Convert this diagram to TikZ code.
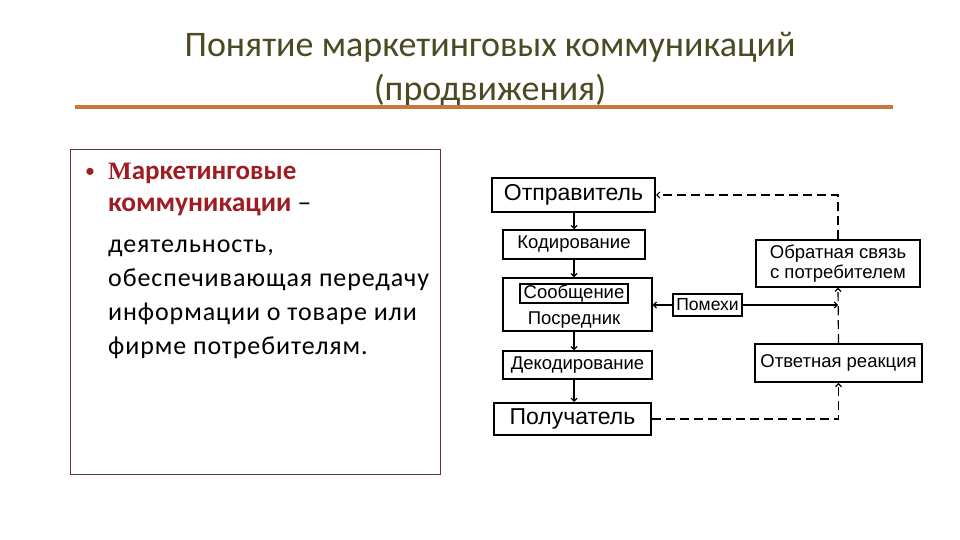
\documentclass[tikz,border=0pt]{standalone}
\usepackage{fontspec}
\setmainfont{Carlito}
\newfontfamily\arialf{Liberation Sans}
\newfontfamily\serifb{Liberation Serif}
\newfontfamily\bodyf[LetterSpace=3.5]{Carlito}
\usetikzlibrary{arrows.meta}
\definecolor{titlecol}{HTML}{4B4A23}
\definecolor{rulecol}{HTML}{C8783C}
\definecolor{headred}{HTML}{9E1C22}
\definecolor{framecol}{HTML}{6A3030}
\tikzset{
  box/.style={draw=black, line width=1.3pt, fill=white, inner sep=0pt,
    font=\arialf\fontsize{18.5}{20}\selectfont},
  bigbox/.style={box, line width=2pt, font=\arialf\fontsize{23}{26}\selectfont},
  arr/.style={line width=1.2pt, -{Straight Barb[length=3pt,width=6pt]}},
  fb/.style={arr, dash pattern=on 9pt off 5pt},
  txt/.style={anchor=mid west, inner sep=0pt},
  body/.style={txt, font=\bodyf\fontsize{26}{30}\selectfont},
}
\begin{document}
\begin{tikzpicture}[x=1pt,y=-1pt]
\fill[white] (0,0) rectangle (960,540);
\useasboundingbox (0,0) rectangle (960,540);

% title
\node[text=titlecol, font=\fontsize{36}{43}\selectfont] (t1) at (490,47) {Понятие маркетинговых коммуникаций};
\node[text=titlecol, font=\fontsize{36}{43}\selectfont] (t2) at (490,90) {(продвижения)};
\draw[rulecol, line width=4pt] (75,107) -- (893,107);

% left text box
\draw[framecol, line width=1pt] (70,150) rectangle (440,474);
\node[txt, text=headred, font=\fontsize{20}{24}\selectfont] (bul) at (85,175) {•};
\node[txt, text=headred, font=\bfseries\fontsize{27}{30}\selectfont] (h1) at (108,177) {{\serifb\bfseries\fontsize{25}{30}\selectfont М}аркетинговые};
\node[txt, font=\fontsize{27.5}{30}\selectfont] (h2) at (108,209) {\textcolor{headred}{\bfseries коммуникации} –};
\node[body] (b1) at (108,250) {деятельность,};
\node[body] (b2) at (108,284) {обеспечивающая передачу};
\node[body] (b3) at (108,318) {информации о товаре или};
\node[body] (b4) at (108,352) {фирме потребителям.};

% diagram
\node[bigbox, minimum width=163pt, minimum height=34pt] (otp) at (573.5,195) {Отправитель};
\node[box, line width=1.5pt, minimum width=142pt, minimum height=29pt] (kod) at (574,244.5) {Кодирование};
\node[box, minimum width=149pt, minimum height=53pt] (med) at (577.5,304.5) {};
\node[box, line width=2pt, minimum width=108pt, minimum height=19pt] (soob) at (574,293.5) {Сообщение};
\node[inner sep=0pt, font=\arialf\fontsize{18.5}{20}\selectfont] (posr) at (574,320) {Посредник};
\node[box, minimum width=149pt, minimum height=28pt] (dek) at (577.5,365) {Декодирование};
\node[bigbox, minimum width=157pt, minimum height=32pt] (pol) at (572.5,419) {Получатель};
\node[box, line width=1.5pt, minimum width=69pt, minimum height=22pt, font=\arialf\fontsize{17.5}{20}\selectfont] (pom) at (707.5,305) {Помехи};
\node[box, minimum width=164pt, minimum height=47pt, align=center, font=\arialf\fontsize{18.5}{19.5}\selectfont] (obr) at (838,263.5) {Обратная связь\\с потребителем};
\node[box, line width=1.8pt, minimum width=167pt, minimum height=38pt] (otv) at (838.5,363) {Ответная реакция};

\coordinate (pomend) at (obr.south |- pom.east);

\draw[arr] (otp.south -| kod.north) -- (kod.north);
\draw[arr] (kod.south) -- (kod.south |- med.north);
\draw[arr] (med.south -| kod.south) -- (dek.north -| kod.south);
\draw[arr] (dek.south -| kod.south) -- (pol.north -| kod.south);
\draw[arr] (pom.west) -- (pom.west -| med.east);
\draw[arr] (pom.east) -- (pomend);
\draw[fb] (pol.east) -| (otv.south);
\draw[fb] (otv.north) -- (obr.south);
\draw[fb] (obr.north) |- (otp.east);
\end{tikzpicture}
\end{document}
